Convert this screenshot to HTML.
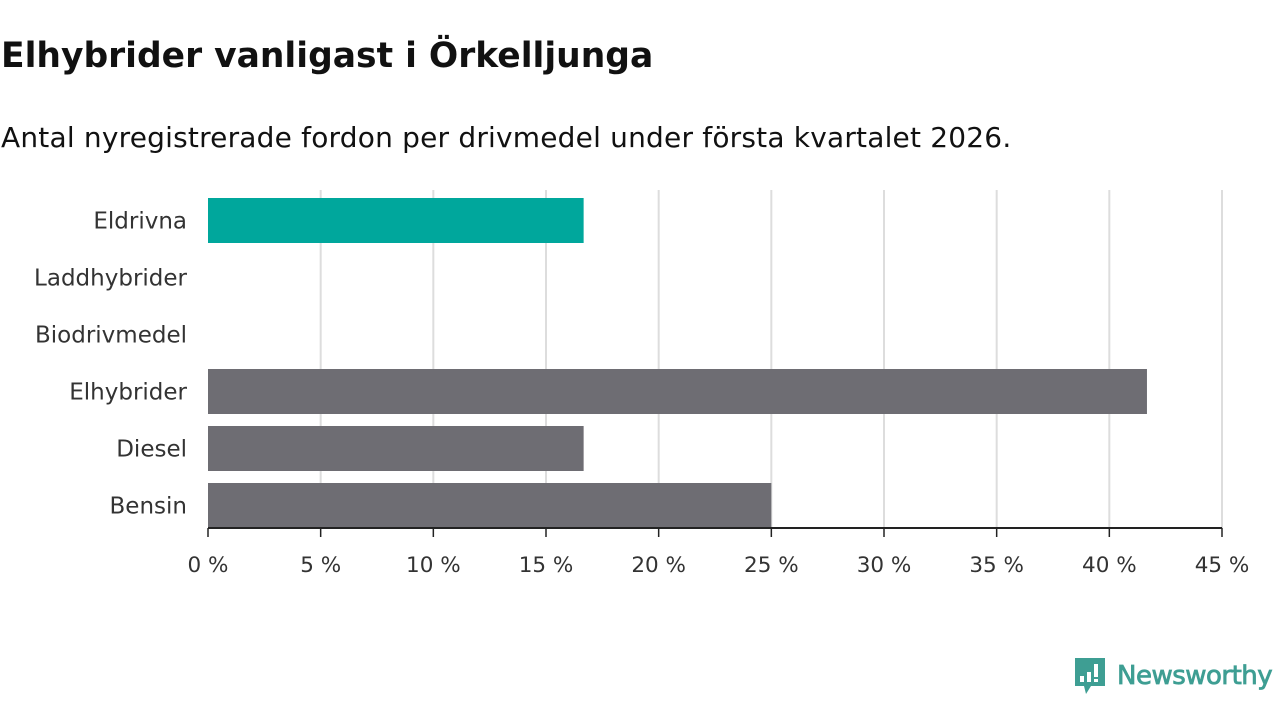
<!DOCTYPE html>
<html><head><meta charset="utf-8"><style>
body{margin:0;width:1280px;height:720px;background:#fff;font-family:"DejaVu Sans","Liberation Sans",sans-serif;overflow:hidden;position:relative}
h1{position:absolute;left:1px;top:36px;margin:0;font-size:34.5px;font-weight:bold;color:#111;letter-spacing:0}
.sub{position:absolute;left:1px;top:121px;font-size:28px;color:#111;letter-spacing:0.2px}
</style></head><body>
<h1>Elhybrider vanligast i Örkelljunga</h1>
<div class="sub">Antal nyregistrerade fordon per drivmedel under första kvartalet 2026.</div>
<svg id="c" width="1280" height="720" style="position:absolute;left:0;top:0"></svg>
<div style="position:absolute;left:1073px;top:656px;display:flex;align-items:center">
<svg width="34" height="40" viewBox="0 0 34 40"><path d="M2 2h30v28H18l-5 8-2-8H2z" fill="#3e9e93"/><rect x="7" y="20" width="4" height="6" fill="#fff"/><rect x="14" y="16" width="4" height="10" fill="#fff"/><rect x="21" y="8" width="4" height="13" fill="#fff"/><rect x="21" y="23" width="4" height="3" fill="#fff"/></svg>
<span style="margin-left:10px;font-size:26px;color:#3e9e93;font-family:'DejaVu Sans',sans-serif;letter-spacing:-0.5px;-webkit-text-stroke:0.8px #3e9e93">Newsworthy</span></div>
<script>
const categories=["Eldrivna","Laddhybrider","Biodrivmedel","Elhybrider","Diesel","Bensin"];
const values=[16.67,0,0,41.67,16.67,25];
const colors=["#00a79c","#6e6d73","#6e6d73","#6e6d73","#6e6d73","#6e6d73"];
const ticks=[0,5,10,15,20,25,30,35,40,45];
const svg=document.getElementById('c'),NS="http://www.w3.org/2000/svg";
const x0=208,x1=1222,y0=192,band=57;
const xs=v=>x0+(v/45)*(x1-x0);
const FF='DejaVu Sans, Liberation Sans, sans-serif';
function mk(t,a){const e=document.createElementNS(NS,t);for(const k in a)e.setAttribute(k,a[k]);svg.appendChild(e);return e;}
ticks.forEach(t=>{
 if(t>0){const g=mk('line',{x1:xs(t),x2:xs(t),y1:190,y2:528,stroke:'#ddd','stroke-width':2});
 
 }
 const k=mk('line',{x1:xs(t),x2:xs(t),y1:528,y2:537,stroke:'#222','stroke-width':1.5});
 
 
 const l=mk('text',{x:xs(t),y:572,'text-anchor':'middle','font-size':21.5,fill:'#333','font-family':FF});
 l.textContent=t+' %';
 
 
});
categories.forEach((c,i)=>{
 const cy=y0+band*i+band/2;
 const r=mk('rect',{x:x0,y:cy-22.5,width:xs(values[i])-x0,height:45,fill:colors[i]});
 
 
 const t=mk('text',{x:187,y:cy+8,'text-anchor':'end','font-size':23,fill:'#333','font-family':FF});
 t.textContent=c;
 
 
});
const ax=mk('line',{x1:x0,x2:x1,y1:528,y2:528,stroke:'#222','stroke-width':2});


</script>
</body></html>
